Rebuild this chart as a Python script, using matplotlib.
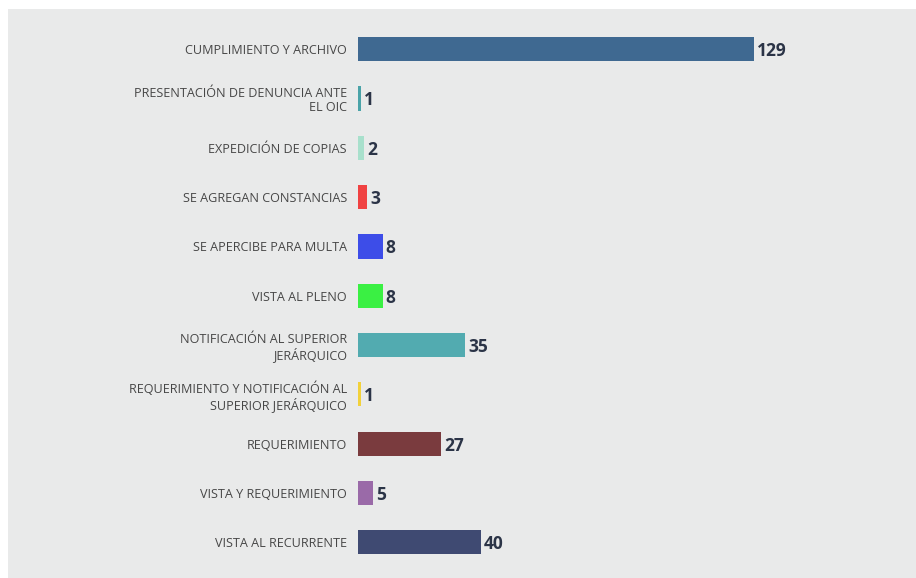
import matplotlib
matplotlib.use("Agg")
import matplotlib.pyplot as plt
from matplotlib.patches import Rectangle

categories = [
    "CUMPLIMIENTO Y ARCHIVO",
    "PRESENTACIÓN DE DENUNCIA ANTE\nEL OIC",
    "EXPEDICIÓN DE COPIAS",
    "SE AGREGAN CONSTANCIAS",
    "SE APERCIBE PARA MULTA",
    "VISTA AL PLENO",
    "NOTIFICACIÓN AL SUPERIOR\nJERÁRQUICO",
    "REQUERIMIENTO Y NOTIFICACIÓN AL\nSUPERIOR JERÁRQUICO",
    "REQUERIMIENTO",
    "VISTA Y REQUERIMIENTO",
    "VISTA AL RECURRENTE",
]
values = [129, 1, 2, 3, 8, 8, 35, 1, 27, 5, 40]
colors = ["#3f6991", "#4aa3a8", "#a8e0cc", "#f04242", "#3d4de8", "#3af043",
          "#52abb0", "#f2d13a", "#7a3b3e", "#9a6aa8", "#3f4a72"]

W, H = 916, 578
fig = plt.figure(figsize=(W/100, H/100), dpi=100, facecolor="white")
fig.patches.append(Rectangle((8/W, 0), 1 - 8/W, (H-9)/H, transform=fig.transFigure,
                             facecolor="#e9eaea", edgecolor="none", zorder=-10))

x0, x1 = 358, 916
top, bottom = 24.5, 567
ax = fig.add_axes([x0/W, 1 - bottom/H, (x1-x0)/W, (bottom-top)/H])
ax.set_facecolor("none")
n = len(values)
ypos = list(range(n))
ax.barh(ypos, values, height=0.49, color=colors)
ax.set_ylim(n - 0.5, -0.5)
ax.set_xlim(0, (x1 - x0) / 3.07)
for y, v in zip(ypos, values):
    ax.text(v + 1.0, y, str(v), va="center_baseline", ha="left", fontsize=12.5,
            fontweight="bold", color="#2b3447", family="Open Sans")
ax.set_yticks(ypos)
ax.set_yticklabels(categories, fontsize=9.1, color="#474747", family="Open Sans",
                   linespacing=1.12)
ax.tick_params(axis="y", length=0, pad=8)
ax.set_xticks([])
for s in ax.spines.values():
    s.set_visible(False)

fig.savefig("out.png", dpi=100, facecolor="white")
